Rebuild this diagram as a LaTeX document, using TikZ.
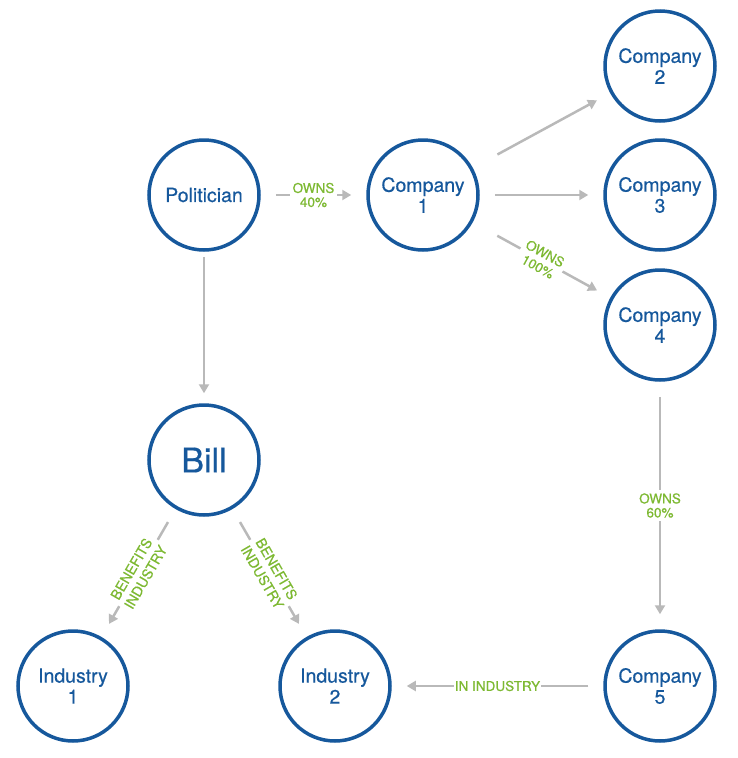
\documentclass[tikz,border=0pt]{standalone}
\usepackage{fontspec}
\setmainfont{TeX Gyre Heros}[FakeBold=0.5]
\usetikzlibrary{arrows.meta}
\definecolor{entityblue}{RGB}{22,88,156}
\definecolor{relgreen}{RGB}{125,185,50}
\definecolor{arrowgray}{RGB}{185,185,185}
\tikzset{
  entity/.style={circle, draw=entityblue, line width=3.5pt, minimum size=110pt, inner sep=0pt,
                 align=center, text=entityblue, font=\fontsize{19.5}{21}\selectfont},
  rel/.style={fill=white, text=relgreen, align=center, inner sep=3pt, font=\fontsize{13.5}{14}\selectfont},
  arr/.style={-{Triangle[length=9pt,width=10pt]}, line width=2.5pt, draw=arrowgray,
              shorten <=15pt, shorten >=15pt}
}

\begin{document}
\begin{tikzpicture}[x=1pt, y=-1pt]
\useasboundingbox (0,0) rectangle (738,758);
\node[entity] (pol) at (204,195) {Politician};
\node[entity] (c1) at (423,195) {Company\\1};
\node[entity] (c2) at (660,66) {Company\\2};
\node[entity] (c3) at (660,195) {Company\\3};
\node[entity] (c4) at (660,325) {Company\\4};
\node[entity, font=\fontsize{34}{36}\selectfont] (bill) at (204,460) {Bill};
\node[entity] (ind1) at (73,686) {Industry\\1};
\node[entity] (ind2) at (335,686) {Industry\\2};
\node[entity] (c5) at (660,686) {Company\\5};
\draw[arr] (pol) -- node[rel] {OWNS\\40\%} (c1);
\draw[arr, shorten <=28pt] (c1) -- (c2);
\draw[arr] (c1) -- (c3);
\draw[arr, shorten <=28pt] (c1) -- node[rel, sloped, font=\fontsize{13.5}{15}\selectfont] {OWNS\\100\%} (c4);
\draw[arr, shorten <=5pt, shorten >=10pt] (pol) -- (bill);
\draw[arr] (c4) -- node[rel] {OWNS\\60\%} (c5);
\draw[arr] (c5) -- node[rel, inner sep=1pt] {IN INDUSTRY} (ind2);
\draw[arr] (bill) -- node[rel, sloped, font=\fontsize{14}{16.5}\selectfont] {BENEFITS\\INDUSTRY} (ind1);
\draw[arr] (bill) -- node[rel, sloped, font=\fontsize{14}{16.5}\selectfont] {BENEFITS\\INDUSTRY} (ind2);
\end{tikzpicture}
\end{document}
